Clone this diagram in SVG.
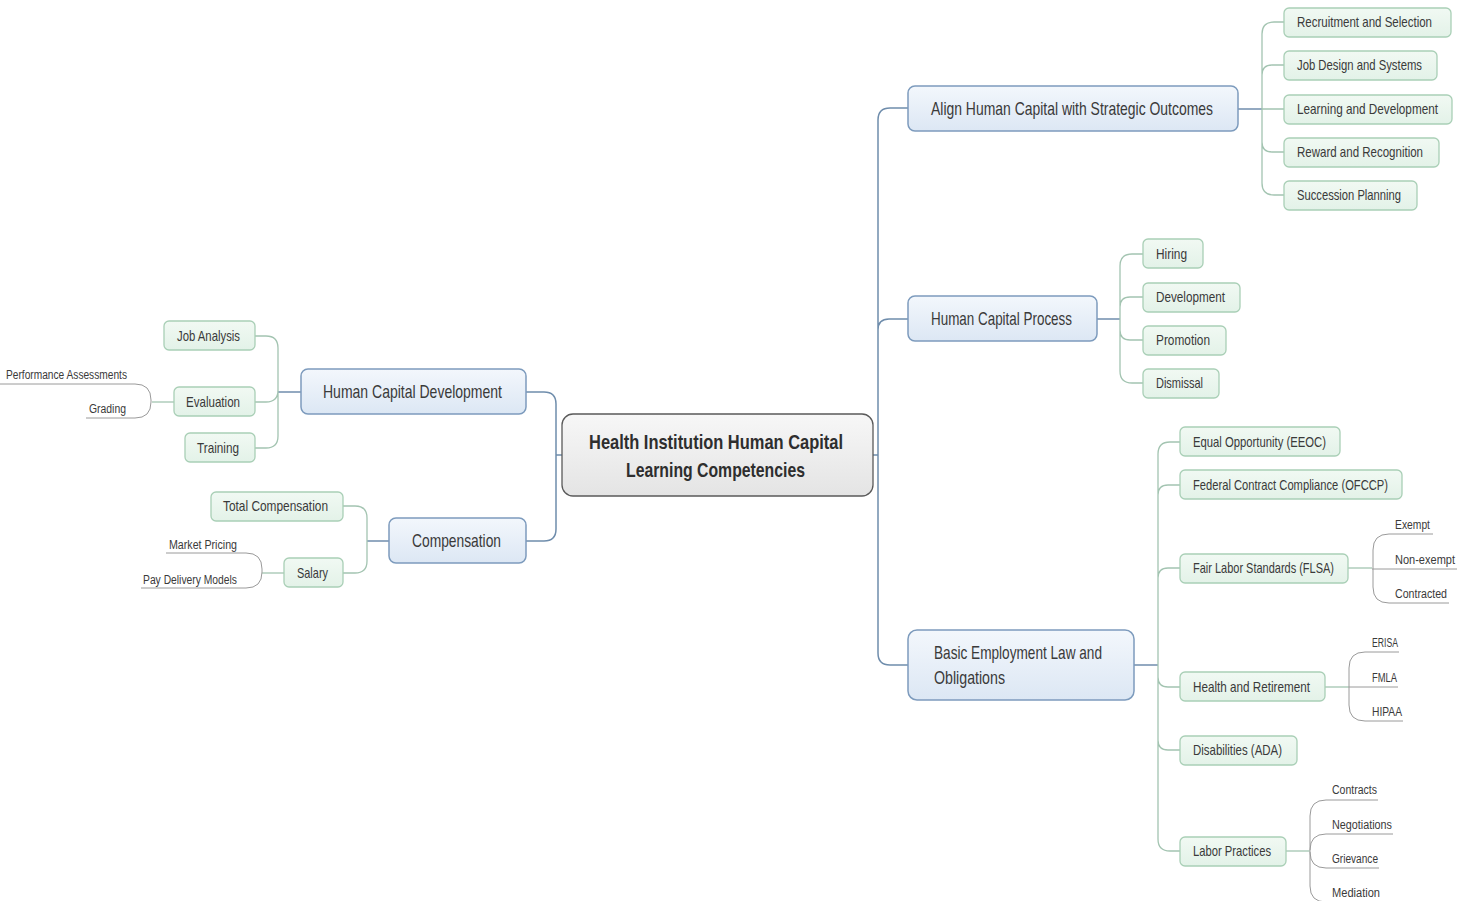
<svg xmlns="http://www.w3.org/2000/svg" width="1470" height="901" viewBox="0 0 1470 901">
<defs>
<linearGradient id="gMain" x1="0" y1="0" x2="0" y2="1"><stop offset="0" stop-color="#f3f7fc"/><stop offset="1" stop-color="#dce7f4"/></linearGradient>
<linearGradient id="gCenter" x1="0" y1="0" x2="0" y2="1"><stop offset="0" stop-color="#f7f7f7"/><stop offset="1" stop-color="#e4e4e4"/></linearGradient>
<linearGradient id="gChild" x1="0" y1="0" x2="0" y2="1"><stop offset="0" stop-color="#f1f9f3"/><stop offset="1" stop-color="#e3f2e8"/></linearGradient>
</defs>
<style>
text{font-family:"Liberation Sans",Arial,sans-serif;fill:#3a3a3a}
.ct{font-size:21px;font-weight:bold;fill:#2e2e2e}
.mt{font-size:19px}
.kt{font-size:14.5px}
.lt{font-size:12.5px}
.center{fill:url(#gCenter);stroke:#5a5a5a;stroke-width:1.3}
.main{fill:url(#gMain);stroke:#7d9bbd;stroke-width:1.5}
.child{fill:url(#gChild);stroke:#a9cfb6;stroke-width:1.3}
.c1{fill:none;stroke:#6f8dac;stroke-width:1.5}
.c2{fill:none;stroke:#a3c4b1;stroke-width:1.3}
.c3{fill:none;stroke:#9a9a9a;stroke-width:1}
</style>
<rect width="1470" height="901" fill="#ffffff"/>
<g id="connectors">
<path class="c1" d="M562,455 H556 M526,392 H544 Q556,392 556,404 V529 Q556,541 544,541 H526"/>
<path class="c1" d="M873,455 H878 M908,108 H890 Q878,108 878,120 V653 Q878,665 890,665 H908 M878,330 Q878,319 889,319 H908"/>
<path class="c1" d="M1238,109 H1262"/>
<path class="c2" d="M1284,22 H1274 Q1262,22 1262,34 V183 Q1262,195 1274,195 H1284 M1262,75 Q1262,65 1272,65 H1284 M1262,109 H1284 M1262,142 Q1262,152 1272,152 H1284"/>
<path class="c1" d="M1097,319 H1120"/>
<path class="c2" d="M1143,254 H1132 Q1120,254 1120,266 V371 Q1120,383 1132,383 H1143 M1120,307 Q1120,297 1130,297 H1143 M1120,330 Q1120,340 1130,340 H1143"/>
<path class="c1" d="M1134,665 H1158"/>
<path class="c2" d="M1180,442 H1170 Q1158,442 1158,454 V839 Q1158,851 1170,851 H1180 M1158,495 Q1158,485 1168,485 H1180 M1158,578 Q1158,568 1168,568 H1180 M1158,677 Q1158,687 1168,687 H1180 M1158,740 Q1158,750 1168,750 H1180"/>
<path class="c1" d="M301,392 H278"/>
<path class="c2" d="M255,336 H266 Q278,336 278,348 V436 Q278,448 266,448 H255 M278,390 Q278,402 266,402 H255"/>
<path class="c1" d="M389,541 H367"/>
<path class="c2" d="M343,506 H355 Q367,506 367,518 V561 Q367,573 355,573 H343"/>
<path class="c2" d="M174,402 H152"/>
<path class="c3" d="M0,384 H135 Q151,384 151,400 V402 Q151,418 135,418 H86"/>
<path class="c2" d="M284,573 H262"/>
<path class="c3" d="M166,553 H246 Q262,553 262,569 V572 Q262,588 246,588 H141"/>
<path class="c2" d="M1348,568 H1372"/>
<path class="c3" d="M1433,534 H1389 Q1373,534 1373,550 V587 Q1373,603 1389,603 H1449 M1372,569 H1457"/>
<path class="c2" d="M1325,687 H1349"/>
<path class="c3" d="M1399,652 H1365 Q1349,652 1349,668 V705 Q1349,721 1365,721 H1403 M1349,687 H1398"/>
<path class="c2" d="M1286,851 H1310"/>
<path class="c3" d="M1378,800 H1326 Q1310,800 1310,816 V886 Q1310,902 1326,902 H1381 M1310,850 Q1310,834 1326,834 H1393 M1310,852 Q1310,868 1326,868 H1379"/>
</g>
<g id="center"><rect class="center" x="562" y="414" width="311" height="82" rx="11"/>
<text class="ct" x="589" y="449" textLength="254" lengthAdjust="spacingAndGlyphs">Health Institution Human Capital</text>
<text class="ct" x="626" y="477" textLength="179" lengthAdjust="spacingAndGlyphs">Learning Competencies</text></g>
<g id="hcd"><rect class="main" x="301" y="369" width="225" height="45" rx="7"/><text class="mt" x="323" y="398" textLength="179" lengthAdjust="spacingAndGlyphs">Human Capital Development</text></g>
<g id="comp"><rect class="main" x="389" y="518" width="137" height="45" rx="7"/><text class="mt" x="412" y="547" textLength="89" lengthAdjust="spacingAndGlyphs">Compensation</text></g>
<g id="align"><rect class="main" x="908" y="86" width="330" height="45" rx="7"/><text class="mt" x="931" y="115" textLength="282" lengthAdjust="spacingAndGlyphs">Align Human Capital with Strategic Outcomes</text></g>
<g id="hcp"><rect class="main" x="908" y="296" width="189" height="45" rx="7"/><text class="mt" x="931" y="325" textLength="141" lengthAdjust="spacingAndGlyphs">Human Capital Process</text></g>
<g id="bel"><rect class="main" x="908" y="630" width="226" height="70" rx="9"/><text class="mt" x="934" y="659" textLength="168" lengthAdjust="spacingAndGlyphs">Basic Employment Law and</text><text class="mt" x="934" y="684" textLength="71" lengthAdjust="spacingAndGlyphs">Obligations</text></g>
<g id="jobAnalysis"><rect class="child" x="164" y="321" width="91" height="29" rx="5"/><text class="kt" x="177" y="341" textLength="63" lengthAdjust="spacingAndGlyphs">Job Analysis</text></g>
<g id="evaluation"><rect class="child" x="174" y="387" width="81" height="29" rx="5"/><text class="kt" x="186" y="407" textLength="54" lengthAdjust="spacingAndGlyphs">Evaluation</text></g>
<g id="training"><rect class="child" x="185" y="433" width="70" height="29" rx="5"/><text class="kt" x="197" y="453" textLength="42" lengthAdjust="spacingAndGlyphs">Training</text></g>
<g id="totalComp"><rect class="child" x="211" y="492" width="132" height="29" rx="5"/><text class="kt" x="223" y="511" textLength="105" lengthAdjust="spacingAndGlyphs">Total Compensation</text></g>
<g id="salary"><rect class="child" x="284" y="558" width="59" height="29" rx="5"/><text class="kt" x="297" y="578" textLength="31" lengthAdjust="spacingAndGlyphs">Salary</text></g>
<g id="recruit"><rect class="child" x="1284" y="8" width="167" height="29" rx="5"/><text class="kt" x="1297" y="27" textLength="135" lengthAdjust="spacingAndGlyphs">Recruitment and Selection</text></g>
<g id="jobDesign"><rect class="child" x="1284" y="51" width="153" height="29" rx="5"/><text class="kt" x="1297" y="70" textLength="125" lengthAdjust="spacingAndGlyphs">Job Design and Systems</text></g>
<g id="learning"><rect class="child" x="1284" y="95" width="168" height="29" rx="5"/><text class="kt" x="1297" y="114" textLength="141" lengthAdjust="spacingAndGlyphs">Learning and Development</text></g>
<g id="reward"><rect class="child" x="1284" y="138" width="155" height="29" rx="5"/><text class="kt" x="1297" y="157" textLength="126" lengthAdjust="spacingAndGlyphs">Reward and Recognition</text></g>
<g id="succession"><rect class="child" x="1284" y="181" width="133" height="29" rx="5"/><text class="kt" x="1297" y="200" textLength="104" lengthAdjust="spacingAndGlyphs">Succession Planning</text></g>
<g id="hiring"><rect class="child" x="1143" y="239" width="60" height="29" rx="5"/><text class="kt" x="1156" y="259" textLength="31" lengthAdjust="spacingAndGlyphs">Hiring</text></g>
<g id="development"><rect class="child" x="1143" y="283" width="97" height="29" rx="5"/><text class="kt" x="1156" y="302" textLength="69" lengthAdjust="spacingAndGlyphs">Development</text></g>
<g id="promotion"><rect class="child" x="1143" y="326" width="83" height="29" rx="5"/><text class="kt" x="1156" y="345" textLength="54" lengthAdjust="spacingAndGlyphs">Promotion</text></g>
<g id="dismissal"><rect class="child" x="1143" y="369" width="76" height="29" rx="5"/><text class="kt" x="1156" y="388" textLength="47" lengthAdjust="spacingAndGlyphs">Dismissal</text></g>
<g id="eeoc"><rect class="child" x="1180" y="427" width="160" height="29" rx="5"/><text class="kt" x="1193" y="447" textLength="133" lengthAdjust="spacingAndGlyphs">Equal Opportunity (EEOC)</text></g>
<g id="ofccp"><rect class="child" x="1180" y="470" width="222" height="29" rx="5"/><text class="kt" x="1193" y="490" textLength="195" lengthAdjust="spacingAndGlyphs">Federal Contract Compliance (OFCCP)</text></g>
<g id="flsa"><rect class="child" x="1180" y="554" width="168" height="29" rx="5"/><text class="kt" x="1193" y="573" textLength="141" lengthAdjust="spacingAndGlyphs">Fair Labor Standards (FLSA)</text></g>
<g id="health"><rect class="child" x="1180" y="672" width="145" height="29" rx="5"/><text class="kt" x="1193" y="692" textLength="117" lengthAdjust="spacingAndGlyphs">Health and Retirement</text></g>
<g id="ada"><rect class="child" x="1180" y="736" width="117" height="29" rx="5"/><text class="kt" x="1193" y="755" textLength="89" lengthAdjust="spacingAndGlyphs">Disabilities (ADA)</text></g>
<g id="labor"><rect class="child" x="1180" y="837" width="106" height="29" rx="5"/><text class="kt" x="1193" y="856" textLength="78" lengthAdjust="spacingAndGlyphs">Labor Practices</text></g>
<g id="leaves">
<text class="lt" x="6" y="379" textLength="121" lengthAdjust="spacingAndGlyphs">Performance Assessments</text>
<text class="lt" x="89" y="413" textLength="37" lengthAdjust="spacingAndGlyphs">Grading</text>
<text class="lt" x="169" y="549" textLength="68" lengthAdjust="spacingAndGlyphs">Market Pricing</text>
<text class="lt" x="143" y="584" textLength="94" lengthAdjust="spacingAndGlyphs">Pay Delivery Models</text>
<text class="lt" x="1395" y="529" textLength="35" lengthAdjust="spacingAndGlyphs">Exempt</text>
<text class="lt" x="1395" y="564" textLength="60" lengthAdjust="spacingAndGlyphs">Non-exempt</text>
<text class="lt" x="1395" y="598" textLength="52" lengthAdjust="spacingAndGlyphs">Contracted</text>
<text class="lt" x="1372" y="647" textLength="26" lengthAdjust="spacingAndGlyphs">ERISA</text>
<text class="lt" x="1372" y="682" textLength="25" lengthAdjust="spacingAndGlyphs">FMLA</text>
<text class="lt" x="1372" y="716" textLength="30" lengthAdjust="spacingAndGlyphs">HIPAA</text>
<text class="lt" x="1332" y="794" textLength="45" lengthAdjust="spacingAndGlyphs">Contracts</text>
<text class="lt" x="1332" y="829" textLength="60" lengthAdjust="spacingAndGlyphs">Negotiations</text>
<text class="lt" x="1332" y="863" textLength="46" lengthAdjust="spacingAndGlyphs">Grievance</text>
<text class="lt" x="1332" y="897" textLength="48" lengthAdjust="spacingAndGlyphs">Mediation</text>
</g>
</svg>
